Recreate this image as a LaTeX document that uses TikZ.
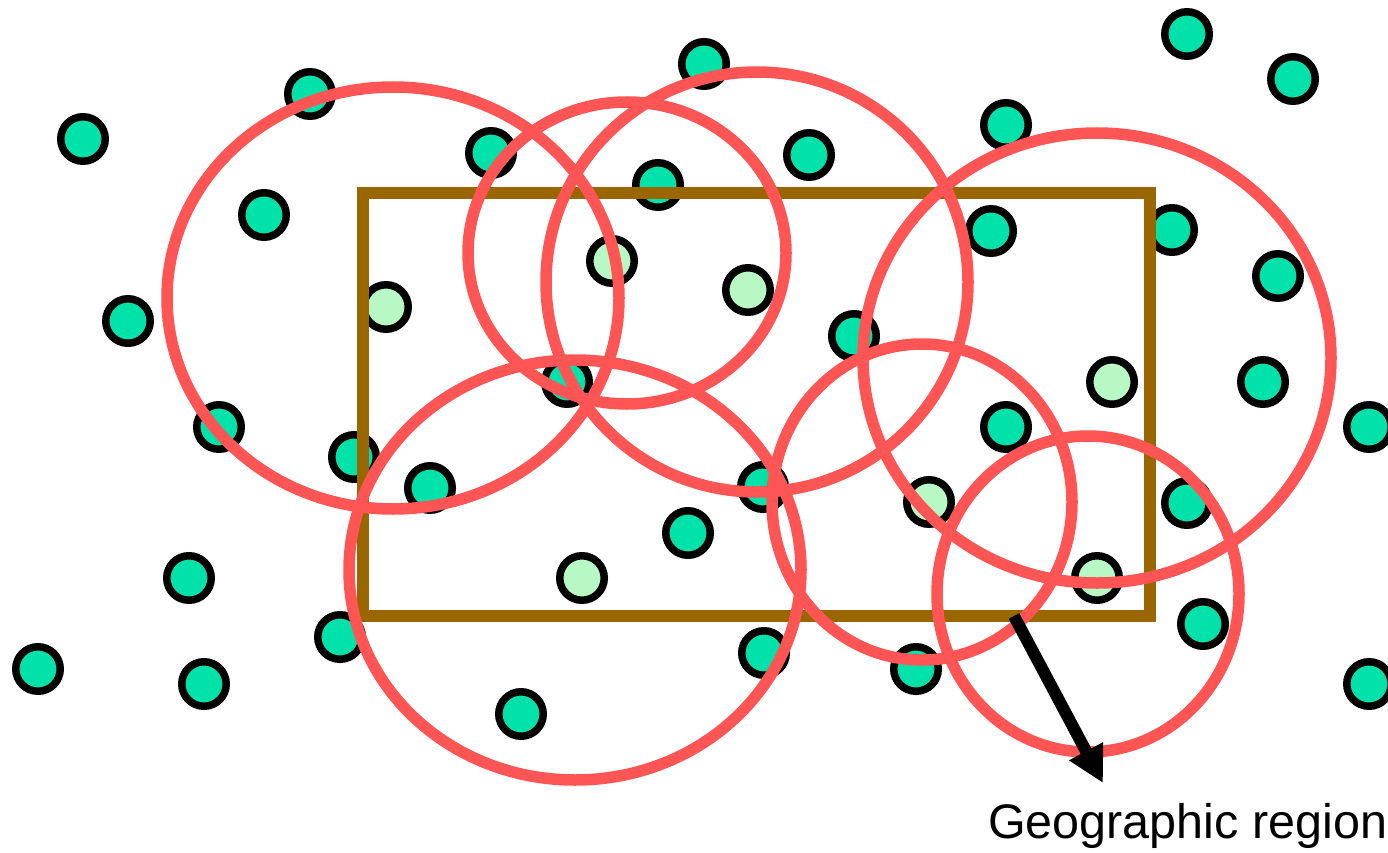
\documentclass[tikz,border=0pt]{standalone}
\usepackage{fontspec}
\setmainfont{Liberation Sans}
\usetikzlibrary{arrows.meta}
\definecolor{teal1}{RGB}{0,226,170}
\definecolor{lgreen}{RGB}{184,248,196}
\definecolor{zonered}{RGB}{255,85,85}
\definecolor{regbrown}{RGB}{153,102,0}
\tikzset{
  tdot/.style={circle, draw=black, line width=7.5pt, fill=teal1, minimum size=44.5pt, inner sep=0pt},
  gdot/.style={tdot, fill=lgreen},
  zone/.style={draw=zonered, line width=11.5pt},
  region/.style={draw=regbrown, line width=12pt},
  arr/.style={line width=12pt, -{Triangle[length=36pt,width=36pt]}},
  lab/.style={anchor=base west, inner sep=0pt, font=\fontsize{48.5}{56}\selectfont}
}
\begin{document}
\begin{tikzpicture}[x=1pt,y=-1pt]
\useasboundingbox (0,0) rectangle (1388,853);
% teal dots
\node[tdot] (t1) at (83,139) {};
\node[tdot] (t2) at (310,94) {};
\node[tdot] (t3) at (264,215) {};
\node[tdot] (t4) at (128,321) {};
\node[tdot] (t5) at (219,427) {};
\node[tdot] (t6) at (354,457) {};
\node[tdot] (t7) at (430,488) {};
\node[tdot] (t8) at (189,578) {};
\node[tdot] (t9) at (38,669) {};
\node[tdot] (t10) at (204,684) {};
\node[tdot] (t11) at (340,637) {};
\node[tdot] (t12) at (521,714) {};
\node[tdot] (t13) at (491,153) {};
\node[tdot] (t14) at (704,64) {};
\node[tdot] (t15) at (658,185) {};
\node[tdot] (t16) at (809,155) {};
\node[tdot] (t17) at (1006,125) {};
\node[tdot] (t18) at (1187,34) {};
\node[tdot] (t19) at (1293,79) {};
\node[tdot] (t20) at (991,231) {};
\node[tdot] (t21) at (1172,230) {};
\node[tdot] (t22) at (1278,276) {};
\node[tdot] (t23) at (854,336) {};
\node[tdot] (t24) at (567,382) {};
\node[tdot] (t25) at (763,487) {};
\node[tdot] (t26) at (688,533) {};
\node[tdot] (t27) at (1006,427) {};
\node[tdot] (t28) at (1263,382) {};
\node[tdot] (t29) at (1369,427) {};
\node[tdot] (t30) at (1187,503) {};
\node[tdot] (t31) at (1203,624) {};
\node[tdot] (t32) at (1369,684) {};
\node[tdot] (t33) at (764,653) {};
\node[tdot] (t34) at (916,669) {};
% light green dots
\node[gdot] (g1) at (386,307) {};
\node[gdot] (g2) at (612,261) {};
\node[gdot] (g3) at (748,290) {};
\node[gdot] (g4) at (582,578) {};
\node[gdot] (g5) at (1112,382) {};
\node[gdot] (g6) at (929,502) {};
\node[gdot] (g7) at (1097,578) {};
% geographic region
\draw[region] (363,193) rectangle (1150,616);
% radio ranges
\draw[zone] (393,298) ellipse [x radius=226, y radius=211];
\draw[zone] (627,253) ellipse [x radius=159, y radius=151];
\draw[zone] (757,282) ellipse [x radius=211, y radius=210];
\draw[zone] (1097,358) ellipse [x radius=234, y radius=225];
\draw[zone] (575,570) ellipse [x radius=226, y radius=210];
\draw[zone] (922,502) ellipse [x radius=150, y radius=158];
\draw[zone] (1088,594) ellipse [x radius=151, y radius=158];
% arrow and label
\coordinate (as) at (1014,616);
\coordinate (ae) at (1103,783);
\draw[arr] (as) -- (ae);
\node[lab] (lbl) at (988,838) {Geographic region};
\end{tikzpicture}
\end{document}
